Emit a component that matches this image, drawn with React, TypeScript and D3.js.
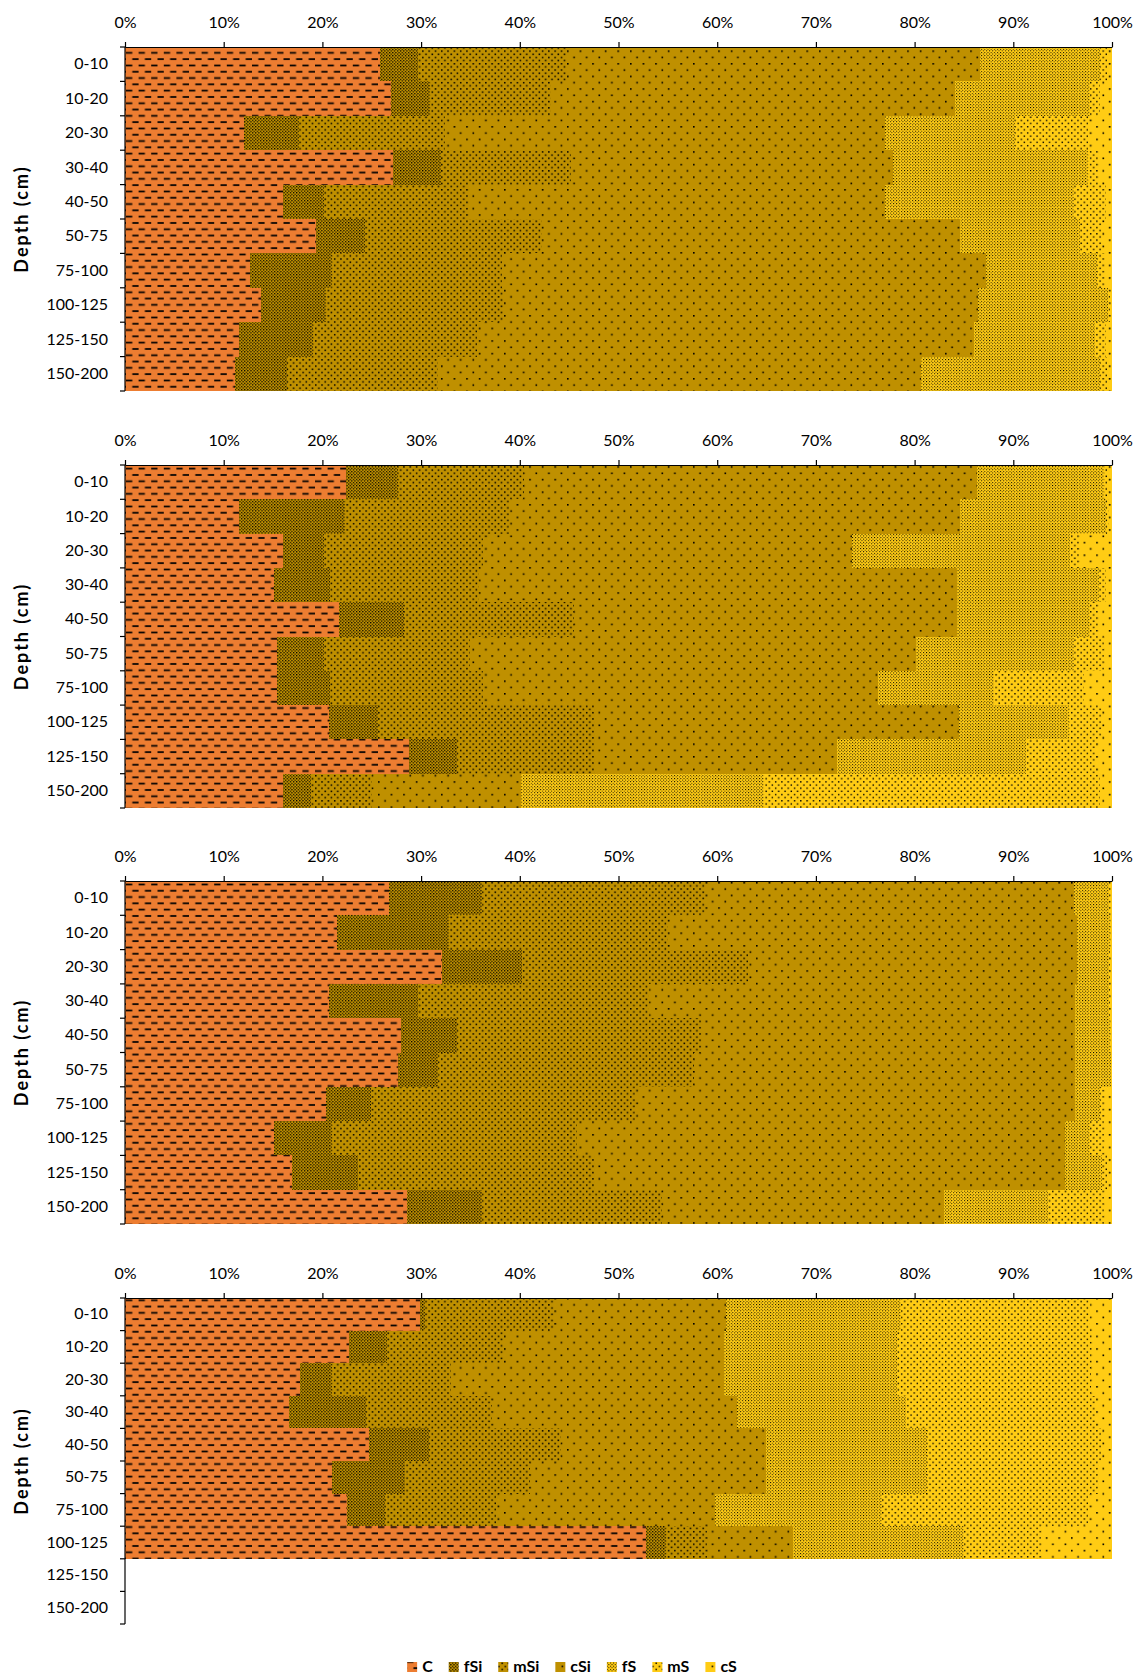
import React, { useEffect, useRef } from "react";
import * as d3 from "d3";

// depth classes, shared by the four profiles
const depths = [
  "0-10",
  "10-20",
  "20-30",
  "30-40",
  "40-50",
  "50-75",
  "75-100",
  "100-125",
  "125-150",
  "150-200",
];

const fractions = ["C", "fSi", "mSi", "cSi", "fS", "mS", "cS"];

const xTicks = [0, 10, 20, 30, 40, 50, 60, 70, 80, 90, 100];

// each row: C, fSi, mSi, cSi, fS, mS, cS (%)
const profile1 = [
  [25.8, 3.9, 15.1, 41.8, 12.2, 0.7, 0.5],
  [26.9, 4.0, 12.3, 40.9, 13.7, 1.0, 1.2],
  [12.1, 5.5, 14.8, 44.6, 13.2, 7.4, 2.4],
  [27.2, 4.8, 13.2, 32.6, 19.8, 1.0, 1.4],
  [16.0, 4.2, 14.6, 42.2, 19.1, 3.3, 0.6],
  [19.4, 4.9, 17.9, 42.4, 12.2, 2.2, 1.0],
  [12.7, 8.3, 17.2, 49.0, 11.3, 0.8, 0.7],
  [13.8, 6.6, 17.9, 48.1, 13.2, 0.2, 0.2],
  [11.6, 7.4, 16.7, 50.3, 12.3, 1.1, 0.6],
  [11.1, 5.3, 15.3, 48.9, 18.2, 0.7, 0.5],
];

const profile2 = [
  [22.4, 5.3, 12.7, 45.9, 12.9, 0.3, 0.5],
  [11.6, 10.7, 16.6, 45.7, 14.8, 0.3, 0.3],
  [16.0, 4.2, 16.1, 37.4, 22.0, 1.0, 3.3],
  [15.1, 5.7, 15.1, 48.4, 14.4, 0.7, 0.6],
  [21.7, 6.6, 17.2, 38.8, 13.5, 0.8, 1.4],
  [15.4, 4.8, 14.8, 45.1, 16.0, 3.1, 0.8],
  [15.4, 5.4, 15.5, 40.0, 11.7, 9.2, 2.8],
  [20.7, 4.9, 22.0, 36.9, 11.1, 3.4, 1.0],
  [28.8, 4.8, 14.0, 24.5, 19.2, 7.0, 1.7],
  [16.0, 2.8, 6.2, 15.1, 24.6, 34.1, 1.2],
];

const profile3 = [
  [26.7, 9.5, 22.6, 37.3, 3.6, 0.2, 0.1],
  [21.5, 11.3, 22.2, 41.5, 3.3, 0.1, 0.1],
  [32.1, 8.1, 22.9, 33.4, 3.2, 0.1, 0.2],
  [20.7, 9.0, 23.4, 43.2, 3.4, 0.1, 0.2],
  [28.0, 5.6, 24.9, 37.8, 3.5, 0.1, 0.1],
  [27.7, 4.0, 26.0, 38.6, 3.6, 0.0, 0.1],
  [20.4, 4.5, 26.8, 44.6, 2.5, 0.5, 0.7],
  [15.1, 5.9, 24.8, 49.4, 2.6, 1.4, 0.8],
  [16.9, 6.7, 24.0, 47.6, 3.8, 0.5, 0.5],
  [28.6, 7.6, 18.2, 28.6, 10.5, 5.7, 0.8],
];

// no samples below 125 cm in the fourth profile
const profile4 = [
  [29.9, 0.5, 13.1, 17.4, 17.7, 19.2, 2.2],
  [22.7, 3.8, 11.9, 22.3, 17.5, 19.8, 2.0],
  [17.7, 3.3, 12.0, 27.7, 17.5, 19.7, 2.1],
  [16.6, 7.8, 12.8, 24.8, 17.1, 19.2, 1.7],
  [24.7, 6.1, 13.4, 20.7, 16.4, 17.6, 1.1],
  [21.0, 7.4, 12.6, 23.9, 16.4, 17.4, 1.3],
  [22.5, 3.8, 11.3, 22.2, 16.9, 20.9, 2.4],
  [52.8, 2.0, 4.2, 8.7, 17.3, 7.8, 7.2],
];

const profiles = [profile1, profile2, profile3, profile4];

const ORANGE = "#ED7D31";
const GOLD = "#BF9000";
const YELLOW = "#FFCC14";

// pattern fills (Excel-like dotted / dashed)
const patterns: Record<string, { bg: string; tile: number; marks: number[][] }> = {
  C: { bg: ORANGE, tile: 12.6, marks: [[0, 1.6, 6.3, 1.7], [6.3, 7.9, 6.3, 1.7]] },
  fSi: { bg: GOLD, tile: 3.15, marks: [[0, 0, 1.2, 1.2], [1.58, 1.58, 1.2, 1.2]] },
  mSi: { bg: GOLD, tile: 6.3, marks: [[0, 0, 1.5, 1.5], [3.15, 3.15, 1.5, 1.5]] },
  cSi: { bg: GOLD, tile: 12.6, marks: [[0, 0, 1.6, 1.6], [6.3, 6.3, 1.6, 1.6]] },
  fS: { bg: YELLOW, tile: 3.15, marks: [[0, 0, 0.95, 0.95], [1.58, 1.58, 0.95, 0.95]] },
  mS: { bg: YELLOW, tile: 6.3, marks: [[0, 0, 1.4, 1.4], [3.15, 3.15, 1.4, 1.4]] },
  cS: { bg: YELLOW, tile: 12.6, marks: [[0, 0, 1.6, 1.6], [6.3, 6.3, 1.6, 1.6]] },
};

const W = 1140;
const H = 1676;
const plotLeft = 125;
const plotRight = 1112;
const panelBands = [
  [47, 391],
  [465, 808],
  [881, 1224],
  [1298, 1624],
];
const FONT = "Lato, 'Open Sans', sans-serif";

const App: React.FC = () => {
  const svgRef = useRef<SVGSVGElement>(null);

  useEffect(() => {
    if (!svgRef.current) return;
    document.body.style.margin = "0";

    const svg = d3.select(svgRef.current);
    svg.selectAll("*").remove();

    const defs = svg.append("defs");
    fractions.forEach((f) => {
      const p = patterns[f];
      const pat = defs
        .append("pattern")
        .attr("id", `pat-${f}`)
        .attr("patternUnits", "userSpaceOnUse")
        .attr("width", p.tile)
        .attr("height", p.tile);
      pat.append("rect").attr("width", p.tile).attr("height", p.tile).attr("fill", p.bg);
      p.marks.forEach(([mx, my, mw, mh]) => {
        pat
          .append("rect")
          .attr("x", mx)
          .attr("y", my)
          .attr("width", mw)
          .attr("height", mh)
          .attr("fill", "#000");
      });
    });

    const x = d3.scaleLinear().domain([0, 1]).range([plotLeft, plotRight]);

    const stack = d3
      .stack<number[], string>()
      .keys(fractions)
      .value((row, key) => row[fractions.indexOf(key)])
      .offset(d3.stackOffsetExpand);

    profiles.forEach((rows, pi) => {
      const [top, bottom] = panelBands[pi];
      const y = d3.scaleBand<string>().domain(depths).range([top, bottom]).padding(0);
      const g = svg.append("g");

      // stacked bars
      stack(rows).forEach((series) => {
        g.append("g")
          .selectAll("rect")
          .data(series)
          .enter()
          .append("rect")
          .attr("x", (d) => x(d[0]))
          .attr("width", (d) => Math.max(0, x(d[1]) - x(d[0])))
          .attr("y", (_, i) => y(depths[i]) as number)
          .attr("height", y.bandwidth())
          .attr("fill", `url(#pat-${series.key})`)
          .attr("shape-rendering", "crispEdges");
      });

      // top percentage axis
      const xAxis = g
        .append("g")
        .attr("transform", `translate(0,${top})`)
        .call(
          d3
            .axisTop(x)
            .tickValues(xTicks.map((v) => v / 100))
            .tickFormat((d) => `${Math.round(+d * 100)}%`)
            .tickSize(5)
            .tickSizeOuter(0)
            .tickPadding(14)
        );
      xAxis.attr("font-family", FONT).attr("font-size", 16);
      xAxis.selectAll("path, line").attr("stroke", "#000").attr("stroke-width", 1.2);
      xAxis.selectAll("text").attr("fill", "#000");

      // left depth axis
      const yAxis = g
        .append("g")
        .attr("transform", `translate(${plotLeft},0)`)
        .call(d3.axisLeft(y).tickSize(0).tickPadding(17));
      yAxis.select(".domain").remove();
      yAxis.attr("font-family", FONT).attr("font-size", 16);
      yAxis.selectAll("text").attr("fill", "#000");

      g.append("line")
        .attr("x1", plotLeft)
        .attr("x2", plotLeft)
        .attr("y1", top)
        .attr("y2", bottom)
        .attr("stroke", "#000")
        .attr("stroke-width", 1.2);

      const bounds = depths.map((d) => y(d) as number).concat([bottom]);
      g.selectAll(".ytick")
        .data(bounds)
        .enter()
        .append("line")
        .attr("x1", plotLeft - 5)
        .attr("x2", plotLeft)
        .attr("y1", (d) => d)
        .attr("y2", (d) => d)
        .attr("stroke", "#000")
        .attr("stroke-width", 1.2);

      g.append("text")
        .attr("transform", `translate(28,${(top + bottom) / 2}) rotate(-90)`)
        .attr("text-anchor", "middle")
        .attr("font-family", FONT)
        .attr("font-weight", "bold")
        .attr("font-size", 18)
        .attr("letter-spacing", 2)
        .attr("fill", "#000")
        .text("Depth (cm)");
    });

    // legend
    const legend = svg.append("g");
    const items = legend
      .selectAll("g")
      .data(fractions)
      .enter()
      .append("g");
    items
      .append("rect")
      .attr("y", -10)
      .attr("width", 10)
      .attr("height", 10)
      .attr("fill", (d) => `url(#pat-${d})`);
    const labels = items
      .append("text")
      .attr("x", 15)
      .attr("y", 0)
      .attr("font-family", FONT)
      .attr("font-weight", "bold")
      .attr("font-size", 16)
      .attr("fill", "#000")
      .text((d) => d);

    const widths: number[] = [];
    labels.each(function () {
      widths.push(15 + (this as SVGTextElement).getComputedTextLength());
    });
    const gap = 16;
    const total = d3.sum(widths) + gap * (widths.length - 1);
    let cursor = 572 - total / 2;
    items.attr("transform", (_, i) => {
      const t = `translate(${cursor},1672)`;
      cursor += widths[i] + gap;
      return t;
    });
  }, []);

  return <svg ref={svgRef} width={W} height={H} style={{ display: "block" }} />;
};

export default App;
